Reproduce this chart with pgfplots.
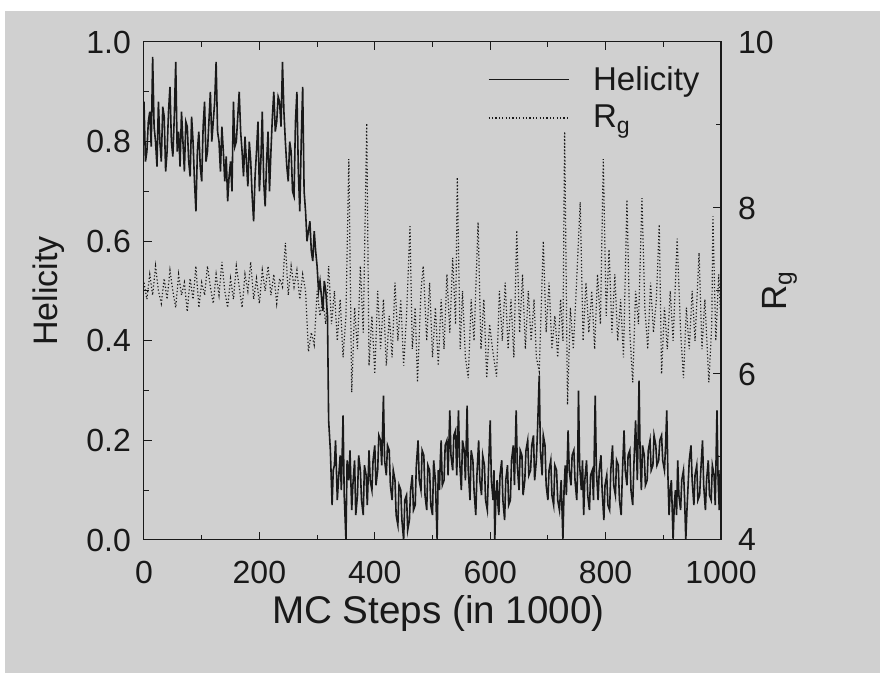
\documentclass[border=0pt]{standalone}
\usepackage{fontspec}
\setmainfont{Liberation Sans}
\usepackage{pgfplots}
\usepackage{pgfplotstable}
\pgfplotsset{compat=1.18}
\definecolor{scan}{RGB}{208,208,208}
\definecolor{ink}{RGB}{25,25,25}

% helicity vs MC steps (in 1000)
\pgfplotstableread[row sep=\\]{
step hel\\
0 0.88\\ 2.5 0.76\\ 5 0.78\\ 7.5 0.84\\ 10 0.86\\ 12.5 0.79\\ 15 0.97\\ 17.5 0.83\\
20 0.80\\ 22.5 0.75\\ 25 0.88\\ 27.5 0.80\\ 30 0.76\\ 32.5 0.87\\ 35 0.85\\ 37.5 0.74\\
40 0.78\\ 42.5 0.86\\ 45 0.91\\ 47.5 0.80\\ 50 0.77\\ 52.5 0.85\\ 55 0.96\\ 57.5 0.78\\
60 0.82\\ 62.5 0.75\\ 65 0.86\\ 67.5 0.80\\ 70 0.74\\ 72.5 0.84\\ 75 0.83\\ 77.5 0.76\\
80 0.73\\ 82.5 0.85\\ 85 0.80\\ 87.5 0.72\\ 90 0.66\\ 92.5 0.78\\ 95 0.82\\ 97.5 0.75\\
100 0.72\\ 102.5 0.83\\ 105 0.88\\ 107.5 0.76\\ 110 0.78\\ 112.5 0.84\\ 115 0.90\\ 117.5 0.80\\
120 0.84\\ 122.5 0.88\\ 125 0.96\\ 127.5 0.82\\ 130 0.80\\ 132.5 0.74\\ 135 0.83\\ 137.5 0.78\\
140 0.72\\ 142.5 0.77\\ 145 0.68\\ 147.5 0.73\\ 150 0.76\\ 152.5 0.70\\ 155 0.88\\ 157.5 0.79\\
160 0.80\\ 162.5 0.85\\ 165 0.90\\ 167.5 0.82\\ 170 0.78\\ 172.5 0.73\\ 175 0.81\\ 177.5 0.76\\
180 0.71\\ 182.5 0.80\\ 185 0.76\\ 187.5 0.69\\ 190 0.64\\ 192.5 0.73\\ 195 0.78\\ 197.5 0.84\\
200 0.70\\ 202.5 0.76\\ 205 0.86\\ 207.5 0.72\\ 210 0.67\\ 212.5 0.76\\ 215 0.82\\ 217.5 0.70\\
220 0.78\\ 222.5 0.85\\ 225 0.90\\ 227.5 0.82\\ 230 0.84\\ 232.5 0.89\\ 235 0.88\\ 237.5 0.83\\
240 0.96\\ 242.5 0.86\\ 245 0.80\\ 247.5 0.75\\ 250 0.72\\ 252.5 0.80\\ 255 0.78\\ 257.5 0.70\\
260 0.69\\ 262.5 0.84\\ 265 0.90\\ 267.5 0.74\\ 270 0.66\\ 272.5 0.80\\ 275 0.91\\ 277.5 0.70\\
280 0.66\\ 282.5 0.60\\ 285 0.62\\ 287.5 0.64\\ 290 0.58\\ 292.5 0.56\\ 295 0.62\\ 297.5 0.58\\
300 0.55\\ 302.5 0.50\\ 305 0.52\\ 307.5 0.49\\ 310 0.46\\ 312.5 0.52\\ 315 0.50\\ 318 0.45\\
320 0.24\\ 323 0.18\\ 326 0.07\\ 328 0.14\\ 330 0.15\\ 332 0.20\\ 335 0.08\\ 337 0.12\\
340 0.17\\ 342 0.10\\ 345 0.25\\ 347 0.09\\ 350 0.00\\ 352 0.16\\ 355 0.12\\ 357 0.18\\
360 0.06\\ 362 0.11\\ 365 0.16\\ 367 0.05\\ 370 0.09\\ 372 0.17\\ 375 0.14\\ 377 0.08\\
380 0.05\\ 382 0.15\\ 385 0.13\\ 387 0.07\\ 390 0.18\\ 392 0.12\\ 395 0.10\\ 397 0.16\\
400 0.19\\ 402 0.11\\ 405 0.14\\ 407 0.21\\ 410 0.20\\ 412 0.15\\ 415 0.29\\ 417 0.16\\
420 0.13\\ 422 0.19\\ 425 0.18\\ 427 0.11\\ 430 0.08\\ 432 0.14\\ 435 0.12\\ 437 0.05\\
440 0.03\\ 442 0.11\\ 445 0.10\\ 447 0.04\\ 450 0.00\\ 452 0.08\\ 455 0.09\\ 457 0.02\\
460 0.04\\ 462 0.10\\ 465 0.13\\ 467 0.06\\ 470 0.07\\ 472 0.15\\ 475 0.20\\ 477 0.12\\
480 0.10\\ 482 0.18\\ 485 0.17\\ 487 0.09\\ 490 0.06\\ 492 0.15\\ 495 0.14\\ 497 0.07\\
500 0.05\\ 502 0.16\\ 505 0.12\\ 506.5 0.06\\ 508 0.00\\ 510 0.14\\ 512 0.10\\ 513.5 0.16\\
515 0.20\\ 517 0.11\\ 520 0.12\\ 522 0.19\\ 525 0.20\\ 527 0.13\\ 530 0.26\\ 532 0.17\\
535 0.14\\ 537 0.21\\ 540 0.22\\ 542 0.13\\ 545 0.26\\ 547 0.16\\ 550 0.10\\ 552 0.20\\
555 0.18\\ 557 0.12\\ 560 0.27\\ 562 0.14\\ 565 0.08\\ 567 0.18\\ 570 0.16\\ 572 0.10\\
575 0.05\\ 577 0.13\\ 580 0.20\\ 582 0.12\\ 585 0.09\\ 587 0.17\\ 590 0.15\\ 592 0.08\\
595 0.06\\ 597 0.14\\ 600 0.24\\ 602 0.12\\ 605 0.08\\ 606.5 0.14\\ 608 0.00\\ 610 0.09\\
612 0.12\\ 613.5 0.07\\ 615 0.05\\ 617 0.13\\ 620 0.16\\ 622 0.08\\ 625 0.04\\ 627 0.12\\
630 0.15\\ 632 0.07\\ 635 0.08\\ 637 0.16\\ 640 0.19\\ 642 0.11\\ 645 0.26\\ 647 0.15\\
650 0.10\\ 652 0.18\\ 655 0.17\\ 657 0.09\\ 660 0.12\\ 662 0.18\\ 665 0.20\\ 667 0.13\\
670 0.14\\ 672 0.19\\ 675 0.21\\ 677 0.12\\ 680 0.16\\ 682 0.22\\ 685 0.33\\ 687 0.18\\
690 0.13\\ 692 0.21\\ 695 0.19\\ 697 0.11\\ 700 0.08\\ 702 0.14\\ 705 0.16\\ 707 0.09\\
710 0.07\\ 712 0.15\\ 715 0.14\\ 717 0.08\\ 720 0.06\\ 723 0.12\\ 726 0.00\\ 728 0.10\\
730 0.15\\ 732 0.09\\ 735 0.22\\ 737 0.14\\ 740 0.11\\ 742 0.17\\ 745 0.18\\ 747 0.12\\
750 0.08\\ 751.5 0.14\\ 753 0.30\\ 755 0.15\\ 758 0.10\\ 760 0.16\\ 762 0.05\\ 764 0.12\\
767 0.16\\ 769 0.09\\ 772 0.06\\ 774 0.13\\ 777 0.14\\ 779 0.08\\ 782 0.29\\ 784 0.14\\
787 0.08\\ 789 0.14\\ 792 0.17\\ 794 0.10\\ 797 0.04\\ 799 0.11\\ 802 0.13\\ 804 0.07\\
807 0.06\\ 809 0.14\\ 812 0.19\\ 814 0.11\\ 817 0.09\\ 819 0.16\\ 822 0.15\\ 824 0.08\\
827 0.05\\ 829 0.13\\ 832 0.22\\ 834 0.14\\ 837 0.11\\ 839 0.17\\ 842 0.18\\ 844 0.10\\
847 0.07\\ 849 0.15\\ 852 0.24\\ 855 0.12\\ 858 0.32\\ 860 0.16\\ 862 0.10\\ 864 0.19\\
867 0.17\\ 869 0.11\\ 872 0.12\\ 874 0.18\\ 877 0.20\\ 879 0.14\\ 882 0.15\\ 884 0.21\\
887 0.19\\ 889 0.15\\ 892 0.16\\ 894 0.20\\ 897 0.21\\ 899 0.16\\ 902 0.14\\ 904 0.19\\
906 0.26\\ 908 0.13\\ 910 0.05\\ 912 0.10\\ 914 0.12\\ 915.5 0.06\\ 917 0.00\\ 919 0.07\\
921 0.10\\ 923 0.05\\ 925 0.16\\ 927 0.09\\ 930 0.06\\ 932 0.12\\ 935 0.14\\ 937 0.08\\
939 0.00\\ 941 0.06\\ 943 0.11\\ 945 0.16\\ 948 0.19\\ 950 0.12\\ 953 0.07\\ 955 0.13\\
958 0.15\\ 960 0.08\\ 963 0.09\\ 965 0.14\\ 968 0.20\\ 970 0.11\\ 973 0.06\\ 975 0.12\\
978 0.16\\ 980 0.09\\ 983 0.08\\ 985 0.15\\ 988 0.13\\ 990 0.07\\ 993 0.26\\ 995 0.12\\
997 0.06\\ 998.5 0.14\\ 1000 0.10\\
}\helicity

% radius of gyration
\pgfplotstableread[row sep=\\]{
step rg\\
0 7.10\\ 5 6.90\\ 10 7.20\\ 15 6.95\\ 20 7.30\\ 25 7.00\\ 30 6.85\\ 35 7.15\\
40 6.90\\ 45 7.25\\ 50 7.00\\ 55 6.80\\ 60 7.20\\ 65 6.95\\ 70 7.10\\ 75 6.75\\
80 7.15\\ 85 6.90\\ 90 7.30\\ 95 6.80\\ 100 7.10\\ 105 6.95\\ 110 7.30\\ 115 7.05\\
120 6.85\\ 125 7.20\\ 130 6.95\\ 135 7.35\\ 140 7.00\\ 145 6.80\\ 150 7.15\\ 155 6.90\\
160 7.30\\ 165 7.05\\ 170 6.80\\ 175 7.20\\ 180 7.00\\ 185 7.35\\ 190 6.90\\ 195 7.15\\
200 6.85\\ 205 7.25\\ 210 7.00\\ 215 7.30\\ 220 6.95\\ 225 7.20\\ 230 6.85\\ 235 7.15\\
240 7.05\\ 245 7.58\\ 250 6.95\\ 255 7.30\\ 260 7.05\\ 265 7.25\\ 270 6.90\\ 275 7.20\\
280 7.00\\ 285 6.27\\ 290 6.50\\ 295 6.35\\ 300 7.00\\ 305 6.70\\ 310 6.90\\ 315 6.60\\
320 7.30\\ 325 6.60\\ 330 7.00\\ 335 6.40\\ 340 6.90\\ 345 6.20\\ 350 6.70\\ 355 8.59\\
360 5.78\\ 365 6.80\\ 370 6.30\\ 375 7.30\\ 380 6.50\\ 386 9.02\\ 390 6.10\\ 395 6.70\\
400 6.00\\ 405 7.00\\ 410 6.30\\ 415 6.90\\ 420 6.10\\ 425 6.70\\ 430 6.20\\ 435 7.10\\
440 6.40\\ 445 6.90\\ 450 6.10\\ 455 6.70\\ 461 7.78\\ 465 6.30\\ 470 6.80\\ 474 5.90\\
480 7.00\\ 484 7.30\\ 490 6.40\\ 495 7.10\\ 500 6.20\\ 505 6.80\\ 510 6.10\\ 515 6.90\\
520 6.30\\ 525 7.20\\ 530 6.50\\ 535 7.40\\ 540 6.60\\ 543 8.37\\ 548 6.30\\ 552 7.00\\
557 6.20\\ 562 5.95\\ 567 6.90\\ 572 6.40\\ 579 7.83\\ 584 6.30\\ 589 6.90\\ 594 5.95\\
599 6.60\\ 604 6.30\\ 611 5.97\\ 616 7.00\\ 621 6.40\\ 626 7.10\\ 631 6.30\\ 636 6.90\\
641 6.20\\ 646 7.73\\ 651 6.50\\ 656 7.20\\ 661 6.30\\ 666 7.00\\ 671 6.40\\ 676 6.90\\
680 6.20\\ 685 6.03\\ 692 7.60\\ 697 6.50\\ 702 7.10\\ 707 6.30\\ 712 6.70\\ 717 6.20\\
722 6.90\\ 726 6.40\\ 729 8.92\\ 734 5.63\\ 739 6.80\\ 744 6.30\\ 749 7.00\\ 756 8.07\\
761 6.40\\ 766 7.10\\ 771 6.50\\ 776 7.00\\ 781 6.30\\ 786 7.20\\ 791 6.60\\ 796 8.59\\
801 6.70\\ 806 7.50\\ 811 6.50\\ 816 7.20\\ 821 6.40\\ 826 6.90\\ 831 6.20\\ 837 8.10\\
842 6.50\\ 847 5.90\\ 852 7.00\\ 857 6.60\\ 863 8.12\\ 868 6.80\\ 873 6.30\\ 878 7.10\\
883 6.50\\ 888 6.90\\ 893 7.80\\ 897 6.00\\ 902 6.80\\ 907 6.30\\ 912 7.00\\ 917 6.40\\
924 7.63\\ 930 6.50\\ 935 5.95\\ 940 6.80\\ 945 6.30\\ 950 7.00\\ 955 6.40\\ 962 7.46\\
967 6.30\\ 972 6.90\\ 979 5.90\\ 984 6.60\\ 986 7.90\\ 991 6.40\\ 996 7.20\\ 1000 6.60\\
}\rgyr

\pgfplotsset{
  scanaxis/.style={
    at={(72pt,66.5pt)}, anchor=south west,
    scale only axis, width=288.5pt, height=249pt,
    xmin=0, xmax=1000,
    axis line style={ink, line width=0.5pt},
    tick style={ink, line width=0.5pt},
    major tick length=4pt, minor tick length=2.5pt,
    minor tick num=1,
    tick label style={ink, font=\fontsize{16}{19}\selectfont},
    label style={ink},
    /pgf/number format/assume math mode=true,
    /pgf/number format/1000 sep={},
  },
}

\begin{document}
\begin{tikzpicture}
\fill[scan] (0,0) rectangle (440pt,336.5pt);
\fill[white] (0,331pt) rectangle (440pt,336.5pt);
\fill[white] (0,0) rectangle (2.5pt,336.5pt);

\begin{axis}[
  scanaxis,
  ymin=0, ymax=1,
  xtick={0,200,...,1000},
  ytick={0,0.2,...,1.0},
  ytick pos=left,
  yticklabel style={/pgf/number format/fixed, /pgf/number format/fixed zerofill,
    /pgf/number format/precision=1, xshift=-3pt},
  xticklabel style={yshift=-7pt},
  xlabel={MC Steps (in 1000)},
  ylabel={Helicity},
  xlabel style={at={(axis description cs:0.51,-0.147)}, anchor=center,
    font=\fontsize{19.3}{23}\selectfont},
  ylabel style={at={(axis description cs:-0.166,0.5)}, anchor=center, rotate=0,
    font=\fontsize{17}{20}\selectfont},
]
\addplot[ink, line width=0.8pt] table[x=step, y=hel] {\helicity};
\end{axis}

\begin{axis}[
  scanaxis,
  axis y line*=right,
  axis x line=none,
  ymin=4, ymax=10,
  ytick={4,6,8,10},
  yticklabel style={xshift=5pt},
  ylabel={R\textsubscript{g}},
  ylabel style={at={(axis description cs:1.102,0.5)}, anchor=center, rotate=0,
    font=\fontsize{17.5}{21}\selectfont},
  legend style={at={(axis description cs:0.585,0.968)}, anchor=north west,
    draw=none, fill=none, font=\fontsize{16.5}{20}\selectfont, text=ink,
    row sep=2pt,
    /tikz/every odd column/.append style={column sep=10pt}},
  legend cell align=left,
  legend image code/.code={\draw[#1] (0pt,0pt) -- (40pt,0pt);},
]
\addlegendimage{ink, line width=0.6pt}
\addlegendentry{Helicity}
\addplot[ink, line width=0.6pt, dash pattern=on 0.6pt off 1.1pt] table[x=step, y=rg] {\rgyr};
\addlegendentry{R\textsubscript{g}}
\end{axis}
\end{tikzpicture}
\end{document}
